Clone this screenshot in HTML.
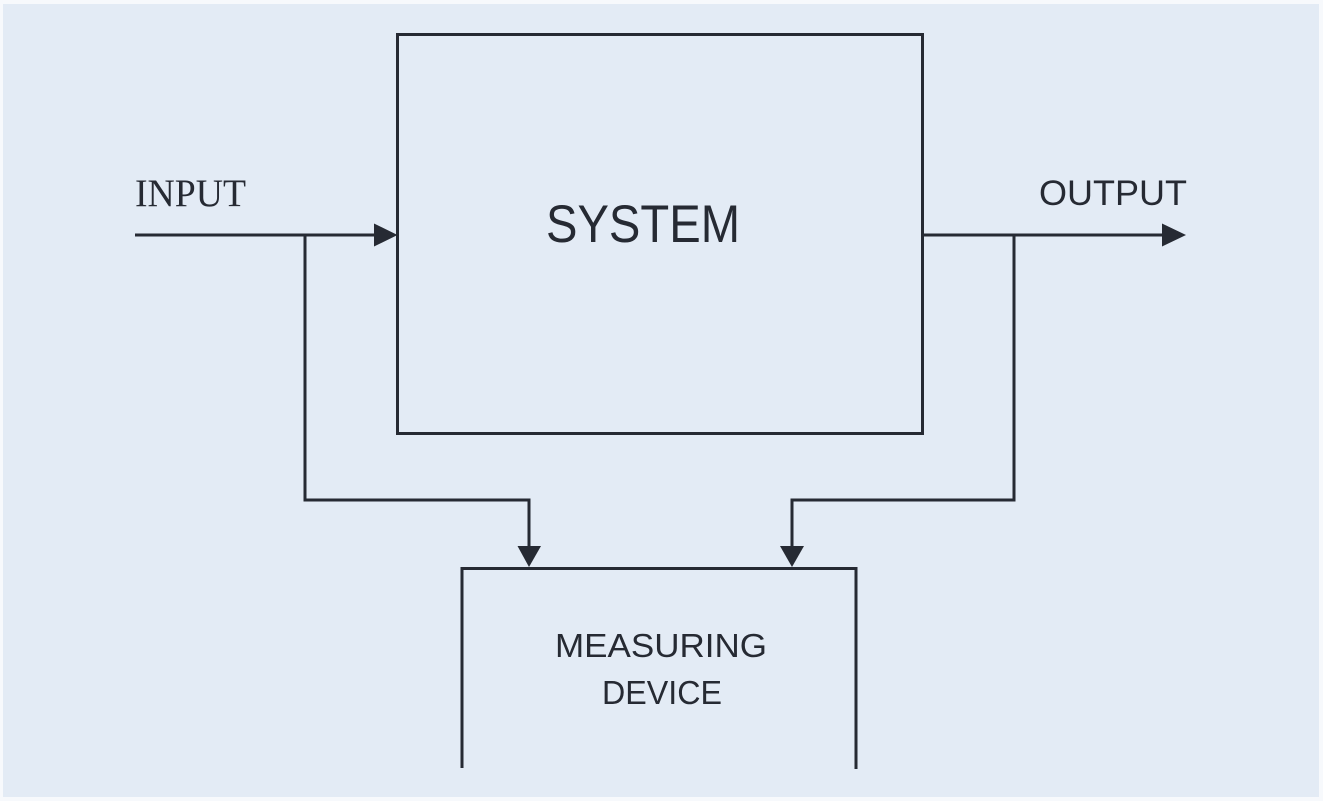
<!DOCTYPE html>
<html><head><meta charset="utf-8"><style>
html,body{margin:0;padding:0;background:#f7f9fc;}
svg{display:block;}
</style></head><body>
<svg width="1323" height="801" viewBox="0 0 1323 801" xmlns="http://www.w3.org/2000/svg">
<rect x="3" y="4" width="1316" height="793" fill="#e3ebf5"/>
<g fill="none" stroke="#262a33" stroke-width="3">
<rect x="397.5" y="34.5" width="525" height="399"/>
<line x1="135" y1="235" x2="380" y2="235"/>
<polyline points="305,235 305,500 529,500 529,550"/>
<line x1="922" y1="235" x2="1168" y2="235"/>
<polyline points="1014,235 1014,500 792,500 792,550"/>
<polyline points="462,768 462,568.5 856,568.5 856,769"/>
</g>
<g fill="#262a33">
<polygon points="374,223.5 397.5,235 374,246.5"/>
<polygon points="1162,223.5 1186,235 1162,246.5"/>
<polygon points="517.5,546 541,546 529,567"/>
<polygon points="780,546 804,546 792,567"/>
</g>
<g fill="#262a33">
<text x="135" y="206" font-family="'Liberation Serif',serif" font-size="39" textLength="111" lengthAdjust="spacingAndGlyphs">INPUT</text>
<text x="1039" y="205" font-family="'Liberation Sans',sans-serif" font-size="35" textLength="148" lengthAdjust="spacingAndGlyphs">OUTPUT</text>
<text x="546" y="242" font-family="'Liberation Sans',sans-serif" font-size="53" textLength="194" lengthAdjust="spacingAndGlyphs">SYSTEM</text>
<text x="555" y="657" font-family="'Liberation Sans',sans-serif" font-size="33.5" textLength="212" lengthAdjust="spacingAndGlyphs">MEASURING</text>
<text x="602" y="704" font-family="'Liberation Sans',sans-serif" font-size="33.5" textLength="120" lengthAdjust="spacingAndGlyphs">DEVICE</text>
</g>
</svg>
</body></html>
